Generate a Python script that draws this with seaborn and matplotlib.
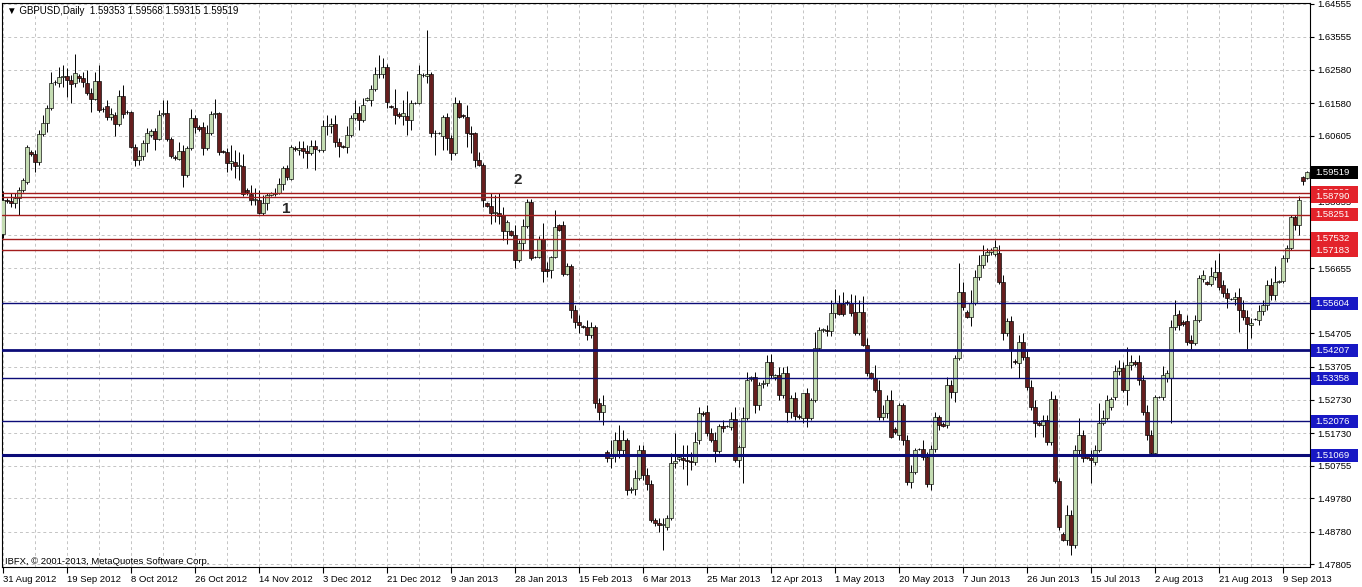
import numpy as np
import pandas as pd
import matplotlib
matplotlib.use('Agg')
import matplotlib.pyplot as plt
from matplotlib.patches import Rectangle
import seaborn as sns

# daily bars (Sunday bars included, as in the IBFX feed), 31 Aug 2012 -> 16 Sep 2013
opens = [
    1.5767, 1.5869, 1.5866, 1.5860, 1.5875, 1.5899, 1.5923, 1.6012, 1.6006, 1.5982,
    1.6066, 1.6099, 1.6144, 1.6221, 1.6218, 1.6236, 1.6239, 1.6227, 1.6218, 1.6239,
    1.6233, 1.6218, 1.6188, 1.6170, 1.6224, 1.6141, 1.6149, 1.6117, 1.6123, 1.6096,
    1.6179, 1.6132, 1.6132, 1.6027, 1.5988, 1.6000, 1.6039, 1.6063, 1.6075, 1.6051,
    1.6126, 1.6129, 1.6051, 1.5997, 1.5991, 1.6015, 1.5943, 1.6024, 1.6114, 1.6087,
    1.6087, 1.6024, 1.6069, 1.6126, 1.6129, 1.6015, 1.6012, 1.5979, 1.5982, 1.5970,
    1.5970, 1.5899, 1.5887, 1.5869, 1.5869, 1.5830, 1.5860, 1.5884, 1.5887, 1.5890,
    1.5917, 1.5964, 1.5932, 1.6024, 1.6018, 1.6024, 1.6015, 1.6009, 1.6030, 1.6018,
    1.6018, 1.6090, 1.6090, 1.6096, 1.6042, 1.6030, 1.6027, 1.6063, 1.6114, 1.6129,
    1.6108, 1.6167, 1.6167, 1.6200, 1.6245, 1.6245, 1.6266, 1.6149, 1.6144, 1.6126,
    1.6120, 1.6120, 1.6108, 1.6158, 1.6158, 1.6242, 1.6239, 1.6245, 1.6069, 1.6069,
    1.6060, 1.6117, 1.6054, 1.6009, 1.6158, 1.6123, 1.6117, 1.6069, 1.6069, 1.5988,
    1.5973, 1.5860, 1.5851, 1.5830, 1.5830, 1.5824, 1.5776, 1.5776, 1.5764, 1.5690,
    1.5740, 1.5791, 1.5863, 1.5699, 1.5699, 1.5752, 1.5663, 1.5660, 1.5699, 1.5794,
    1.5794, 1.5648, 1.5672, 1.5540, 1.5505, 1.5493, 1.5490, 1.5466, 1.5490, 1.5263,
    1.5236, 1.5116, 1.5098, 1.5107, 1.5152, 1.5122, 1.5152, 1.5003, 1.5006, 1.5039,
    1.5122, 1.5048, 1.5021, 1.4913, 1.4904, 1.4898, 1.4892, 1.4919, 1.5083, 1.5095,
    1.5098, 1.5092, 1.5089, 1.5086, 1.5152, 1.5233, 1.5236, 1.5173, 1.5152, 1.5119,
    1.5194, 1.5194, 1.5191, 1.5215, 1.5092, 1.5131, 1.5218, 1.5334, 1.5340, 1.5257,
    1.5319, 1.5322, 1.5385, 1.5340, 1.5346, 1.5287, 1.5352, 1.5236, 1.5278, 1.5224,
    1.5218, 1.5293, 1.5218, 1.5272, 1.5427, 1.5481, 1.5481, 1.5478, 1.5531, 1.5561,
    1.5558, 1.5564, 1.5561, 1.5534, 1.5472, 1.5534, 1.5436, 1.5352, 1.5337, 1.5301,
    1.5221, 1.5233, 1.5272, 1.5185, 1.5167, 1.5257, 1.5152, 1.5027, 1.5057, 1.5125,
    1.5125, 1.5101, 1.5021, 1.5125, 1.5221, 1.5200, 1.5197, 1.5316, 1.5295, 1.5397,
    1.5594, 1.5534, 1.5520, 1.5561, 1.5639, 1.5675, 1.5705, 1.5714, 1.5708, 1.5711,
    1.5624, 1.5472, 1.5507, 1.5388, 1.5382, 1.5445, 1.5400, 1.5310, 1.5251, 1.5203,
    1.5197, 1.5212, 1.5146, 1.5275, 1.5030, 1.4871, 1.4854, 1.4928, 1.4839, 1.5122,
    1.5167, 1.5104, 1.5098, 1.5086, 1.5122, 1.5203, 1.5218, 1.5251, 1.5281, 1.5358,
    1.5367, 1.5301, 1.5376, 1.5385, 1.5385, 1.5331, 1.5236, 1.5167, 1.5113, 1.5281,
    1.5281, 1.5337, 1.5337, 1.5490, 1.5528, 1.5505, 1.5507, 1.5451, 1.5442, 1.5510,
    1.5633, 1.5624, 1.5618, 1.5639, 1.5654, 1.5615, 1.5591, 1.5573, 1.5573, 1.5579,
    1.5540, 1.5519, 1.5496, 1.5513, 1.5510, 1.5537, 1.5555, 1.5615, 1.5585, 1.5624,
    1.5627, 1.5696, 1.5725, 1.5818, 1.5794, 1.5937, 1.59353,
]
highs = [
    1.5896, 1.5875, 1.5890, 1.5890, 1.5908, 1.5934, 1.6033, 1.6018, 1.6018, 1.6078,
    1.6123, 1.6152, 1.6251, 1.6227, 1.6266, 1.6272, 1.6263, 1.6242, 1.6305, 1.6245,
    1.6251, 1.6257, 1.6203, 1.6251, 1.6272, 1.6146, 1.6167, 1.6144, 1.6132, 1.6197,
    1.6212, 1.6138, 1.6135, 1.6036, 1.6018, 1.6048, 1.6084, 1.6081, 1.6084, 1.6138,
    1.6167, 1.6167, 1.6057, 1.6003, 1.6042, 1.6033, 1.6030, 1.6141, 1.6123, 1.6093,
    1.6102, 1.6093, 1.6135, 1.6170, 1.6132, 1.6018, 1.6024, 1.6033, 1.6018, 1.6012,
    1.6006, 1.5905, 1.5914, 1.5905, 1.5899, 1.5884, 1.5890, 1.5893, 1.5905, 1.5934,
    1.5970, 1.5973, 1.6033, 1.6030, 1.6045, 1.6045, 1.6033, 1.6048, 1.6048, 1.6021,
    1.6108, 1.6123, 1.6114, 1.6123, 1.6054, 1.6033, 1.6090, 1.6123, 1.6167, 1.6149,
    1.6173, 1.6176, 1.6212, 1.6266, 1.6302, 1.6293, 1.6275, 1.6152, 1.6200, 1.6132,
    1.6167, 1.6194, 1.6167, 1.6161, 1.6272, 1.6248, 1.6376, 1.6251, 1.6078, 1.6072,
    1.6123, 1.6129, 1.6063, 1.6176, 1.6167, 1.6126, 1.6152, 1.6090, 1.6072, 1.6012,
    1.5979, 1.5863, 1.5890, 1.5884, 1.5890, 1.5848, 1.5809, 1.5779, 1.5794, 1.5749,
    1.5812, 1.5872, 1.5872, 1.5702, 1.5761, 1.5800, 1.5684, 1.5702, 1.5839, 1.5797,
    1.5806, 1.5681, 1.5678, 1.5555, 1.5525, 1.5496, 1.5511, 1.5505, 1.5496, 1.5278,
    1.5287, 1.5122, 1.5152, 1.5176, 1.5197, 1.5182, 1.5158, 1.5012, 1.5063, 1.5137,
    1.5137, 1.5069, 1.5033, 1.4919, 1.4919, 1.4919, 1.4928, 1.5113, 1.5173, 1.5107,
    1.5137, 1.5137, 1.5116, 1.5176, 1.5251, 1.5239, 1.5257, 1.5188, 1.5176, 1.5200,
    1.5212, 1.5197, 1.5236, 1.5251, 1.5137, 1.5251, 1.5355, 1.5343, 1.5355, 1.5325,
    1.5331, 1.5406, 1.5409, 1.5349, 1.5370, 1.5370, 1.5373, 1.5287, 1.5295, 1.5230,
    1.5293, 1.5307, 1.5278, 1.5475, 1.5490, 1.5487, 1.5496, 1.5570, 1.5603, 1.5585,
    1.5594, 1.5570, 1.5588, 1.5585, 1.5570, 1.5582, 1.5457, 1.5355, 1.5376, 1.5331,
    1.5257, 1.5287, 1.5302, 1.5191, 1.5263, 1.5263, 1.5167, 1.5078, 1.5128, 1.5128,
    1.5152, 1.5116, 1.5137, 1.5236, 1.5227, 1.5206, 1.5340, 1.5331, 1.5406, 1.5681,
    1.5624, 1.5540, 1.5600, 1.5660, 1.5705, 1.5734, 1.5725, 1.5725, 1.5749, 1.5734,
    1.5645, 1.5517, 1.5522, 1.5394, 1.5466, 1.5472, 1.5421, 1.5331, 1.5272, 1.5209,
    1.5227, 1.5227, 1.5299, 1.5287, 1.5039, 1.4877, 1.4958, 1.4943, 1.5137, 1.5218,
    1.5182, 1.5107, 1.5122, 1.5137, 1.5263, 1.5242, 1.5287, 1.5281, 1.5376, 1.5391,
    1.5385, 1.5430, 1.5406, 1.5391, 1.5406, 1.5346, 1.5257, 1.5182, 1.5287, 1.5284,
    1.5373, 1.5361, 1.5510, 1.5570, 1.5540, 1.5510, 1.5525, 1.5466, 1.5525, 1.5645,
    1.5660, 1.5627, 1.5669, 1.5690, 1.5711, 1.5630, 1.5606, 1.5576, 1.5594, 1.5606,
    1.5570, 1.5540, 1.5517, 1.5516, 1.5555, 1.5570, 1.5630, 1.5636, 1.5672, 1.5630,
    1.5705, 1.5734, 1.5824, 1.5824, 1.5881, 1.5939, 1.59568,
]
lows = [
    1.5755, 1.5860, 1.5848, 1.5845, 1.5824, 1.5893, 1.5917, 1.6000, 1.5952, 1.5973,
    1.6060, 1.6072, 1.6138, 1.6212, 1.6206, 1.6206, 1.6176, 1.6158, 1.6206, 1.6221,
    1.6206, 1.6182, 1.6132, 1.6167, 1.6132, 1.6132, 1.6108, 1.6108, 1.6060, 1.6090,
    1.6114, 1.6126, 1.6024, 1.5970, 1.5973, 1.5988, 1.6012, 1.6057, 1.6018, 1.6048,
    1.6120, 1.6045, 1.5994, 1.5988, 1.5988, 1.5908, 1.5937, 1.6018, 1.6069, 1.6075,
    1.6003, 1.6018, 1.6063, 1.6114, 1.6003, 1.6009, 1.5952, 1.5958, 1.5934, 1.5929,
    1.5881, 1.5884, 1.5854, 1.5854, 1.5827, 1.5824, 1.5839, 1.5881, 1.5881, 1.5887,
    1.5899, 1.5929, 1.5929, 1.6015, 1.6003, 1.5994, 1.5964, 1.6003, 1.5958, 1.6012,
    1.6012, 1.6063, 1.6069, 1.6027, 1.5997, 1.6024, 1.6009, 1.6057, 1.6108, 1.6078,
    1.6102, 1.6164, 1.6149, 1.6194, 1.6233, 1.6233, 1.6144, 1.6144, 1.6096, 1.6114,
    1.6093, 1.6063, 1.6078, 1.6155, 1.6155, 1.6236, 1.6218, 1.6057, 1.6003, 1.6066,
    1.6018, 1.6018, 1.5988, 1.6003, 1.6114, 1.6114, 1.6027, 1.6009, 1.5967, 1.5970,
    1.5848, 1.5848, 1.5797, 1.5803, 1.5797, 1.5749, 1.5737, 1.5761, 1.5666, 1.5684,
    1.5719, 1.5785, 1.5690, 1.5696, 1.5696, 1.5624, 1.5639, 1.5636, 1.5696, 1.5776,
    1.5642, 1.5645, 1.5517, 1.5487, 1.5472, 1.5487, 1.5451, 1.5457, 1.5248, 1.5212,
    1.5197, 1.5086, 1.5069, 1.5086, 1.5098, 1.5107, 1.4988, 1.4994, 1.4988, 1.5033,
    1.5033, 1.5003, 1.4907, 1.4895, 1.4877, 1.4824, 1.4883, 1.4913, 1.5069, 1.5089,
    1.5066, 1.5018, 1.5063, 1.5078, 1.5140, 1.5224, 1.5164, 1.5146, 1.5086, 1.5113,
    1.5176, 1.5191, 1.5182, 1.5086, 1.5072, 1.5024, 1.5212, 1.5328, 1.5233, 1.5242,
    1.5307, 1.5313, 1.5337, 1.5331, 1.5272, 1.5278, 1.5206, 1.5218, 1.5212, 1.5215,
    1.5203, 1.5191, 1.5212, 1.5266, 1.5421, 1.5475, 1.5463, 1.5463, 1.5516, 1.5525,
    1.5522, 1.5555, 1.5522, 1.5466, 1.5466, 1.5433, 1.5343, 1.5334, 1.5295, 1.5212,
    1.5212, 1.5218, 1.5158, 1.5170, 1.5152, 1.5137, 1.5018, 1.5009, 1.5051, 1.5122,
    1.5092, 1.5012, 1.5003, 1.5116, 1.5182, 1.5191, 1.5188, 1.5278, 1.5266, 1.5391,
    1.5540, 1.5517, 1.5493, 1.5555, 1.5630, 1.5666, 1.5684, 1.5705, 1.5702, 1.5618,
    1.5451, 1.5463, 1.5367, 1.5379, 1.5337, 1.5391, 1.5301, 1.5242, 1.5161, 1.5194,
    1.5161, 1.5137, 1.5137, 1.5024, 1.4883, 1.4851, 1.4839, 1.4809, 1.4830, 1.5107,
    1.5086, 1.5095, 1.5024, 1.5078, 1.5116, 1.5197, 1.5212, 1.5242, 1.5272, 1.5346,
    1.5295, 1.5257, 1.5361, 1.5373, 1.5316, 1.5227, 1.5152, 1.5107, 1.5107, 1.5278,
    1.5272, 1.5325, 1.5203, 1.5481, 1.5481, 1.5493, 1.5436, 1.5421, 1.5436, 1.5505,
    1.5624, 1.5615, 1.5612, 1.5630, 1.5600, 1.5579, 1.5546, 1.5570, 1.5555, 1.5475,
    1.5510, 1.5424, 1.5457, 1.5510, 1.5496, 1.5525, 1.5540, 1.5570, 1.5570, 1.5621,
    1.5621, 1.5684, 1.5719, 1.5779, 1.5764, 1.5913, 1.59315,
]
closes = [
    1.5869, 1.5866, 1.5860, 1.5875, 1.5899, 1.5929, 1.6027, 1.6006, 1.5982, 1.6066,
    1.6099, 1.6144, 1.6218, 1.6221, 1.6236, 1.6239, 1.6227, 1.6215, 1.6248, 1.6233,
    1.6221, 1.6188, 1.6170, 1.6224, 1.6138, 1.6141, 1.6117, 1.6126, 1.6096, 1.6179,
    1.6126, 1.6132, 1.6027, 1.5988, 1.6000, 1.6039, 1.6069, 1.6075, 1.6051, 1.6123,
    1.6129, 1.6051, 1.6000, 1.5994, 1.6015, 1.5943, 1.6024, 1.6114, 1.6087, 1.6081,
    1.6024, 1.6069, 1.6126, 1.6129, 1.6012, 1.6012, 1.5979, 1.5985, 1.5970, 1.5973,
    1.5887, 1.5893, 1.5869, 1.5872, 1.5830, 1.5860, 1.5884, 1.5890, 1.5890, 1.5917,
    1.5964, 1.5937, 1.6027, 1.6021, 1.6024, 1.6015, 1.6009, 1.6030, 1.6021, 1.6018,
    1.6090, 1.6090, 1.6096, 1.6042, 1.6030, 1.6027, 1.6063, 1.6114, 1.6129, 1.6108,
    1.6152, 1.6173, 1.6200, 1.6245, 1.6245, 1.6266, 1.6161, 1.6146, 1.6123, 1.6120,
    1.6129, 1.6108, 1.6158, 1.6158, 1.6245, 1.6242, 1.6245, 1.6069, 1.6069, 1.6069,
    1.6117, 1.6054, 1.6009, 1.6158, 1.6117, 1.6120, 1.6069, 1.6066, 1.5988, 1.5973,
    1.5869, 1.5851, 1.5830, 1.5833, 1.5821, 1.5776, 1.5803, 1.5764, 1.5690, 1.5740,
    1.5791, 1.5863, 1.5696, 1.5699, 1.5752, 1.5657, 1.5657, 1.5699, 1.5788, 1.5779,
    1.5648, 1.5672, 1.5540, 1.5505, 1.5496, 1.5490, 1.5466, 1.5490, 1.5263, 1.5236,
    1.5257, 1.5098, 1.5107, 1.5152, 1.5122, 1.5152, 1.5003, 1.5006, 1.5039, 1.5122,
    1.5048, 1.5021, 1.4913, 1.4904, 1.4898, 1.4901, 1.4919, 1.5083, 1.5089, 1.5101,
    1.5092, 1.5089, 1.5086, 1.5146, 1.5233, 1.5230, 1.5173, 1.5152, 1.5119, 1.5194,
    1.5188, 1.5194, 1.5215, 1.5092, 1.5131, 1.5218, 1.5331, 1.5340, 1.5257, 1.5316,
    1.5322, 1.5385, 1.5346, 1.5346, 1.5287, 1.5352, 1.5236, 1.5278, 1.5224, 1.5221,
    1.5293, 1.5218, 1.5272, 1.5427, 1.5481, 1.5484, 1.5478, 1.5531, 1.5561, 1.5528,
    1.5528, 1.5561, 1.5531, 1.5472, 1.5534, 1.5436, 1.5352, 1.5337, 1.5301, 1.5221,
    1.5233, 1.5272, 1.5161, 1.5176, 1.5257, 1.5152, 1.5027, 1.5057, 1.5122, 1.5125,
    1.5101, 1.5021, 1.5125, 1.5221, 1.5197, 1.5194, 1.5316, 1.5295, 1.5397, 1.5594,
    1.5549, 1.5520, 1.5561, 1.5639, 1.5675, 1.5705, 1.5714, 1.5719, 1.5728, 1.5624,
    1.5472, 1.5507, 1.5421, 1.5385, 1.5445, 1.5400, 1.5310, 1.5251, 1.5203, 1.5197,
    1.5212, 1.5146, 1.5275, 1.5030, 1.4892, 1.4854, 1.4928, 1.4839, 1.5122, 1.5167,
    1.5098, 1.5098, 1.5092, 1.5122, 1.5203, 1.5218, 1.5272, 1.5275, 1.5358, 1.5367,
    1.5301, 1.5376, 1.5385, 1.5379, 1.5331, 1.5236, 1.5167, 1.5113, 1.5281, 1.5281,
    1.5346, 1.5352, 1.5490, 1.5525, 1.5496, 1.5499, 1.5445, 1.5442, 1.5510, 1.5636,
    1.5645, 1.5618, 1.5642, 1.5654, 1.5609, 1.5591, 1.5576, 1.5573, 1.5579, 1.5540,
    1.5519, 1.5499, 1.5502, 1.5513, 1.5537, 1.5555, 1.5615, 1.5585, 1.5624, 1.5627,
    1.5696, 1.5725, 1.5818, 1.5794, 1.5869, 1.5926, 1.59519,
]

# horizontal levels drawn on the chart
red_levels = [1.58906, 1.58790, 1.58251, 1.57532, 1.57183]
blue_levels = [1.55604, 1.54207, 1.53358, 1.52076, 1.51069]
blue_widths = [1.0, 2.0, 1.0, 1.0, 2.2]
price_ticks = [1.64555, 1.63555, 1.62580, 1.61580, 1.60605, 1.59630, 1.58655, 1.57655, 1.56655,
               1.55680, 1.54705, 1.53705, 1.52730, 1.51730, 1.50755, 1.49780, 1.48780, 1.47805]
# scale labels fully covered by the price boxes in the terminal
hidden_ticks = [1.59630, 1.55680]
header = '\u25bc GBPUSD,Daily  1.59353 1.59568 1.59315 1.59519'
copyright_txt = 'IBFX, \u00a9 2001-2013, MetaQuotes Software Corp.'

assert len(opens) == len(highs) == len(lows) == len(closes)

sns.set_style('white')
plt.rcParams['font.family'] = ['Liberation Sans', 'DejaVu Sans']

dates = pd.bdate_range('2012-08-31', periods=len(closes), freq='C',
                       weekmask='Sun Mon Tue Wed Thu Fri')
df = pd.DataFrame({'date': dates, 'open': opens, 'high': highs, 'low': lows, 'close': closes})
df['bar'] = np.arange(len(df))
df['up'] = df['close'] >= df['open']

BULL = '#c4dcb2'
BEAR = '#661e1e'
GRID = '#c4c4c4'

fig = plt.figure(figsize=(13.62, 5.87), dpi=100)
ax = fig.add_axes([2 / 1362, 20 / 587, 1308 / 1362, 564 / 587])

# candles
ax.vlines(df['bar'], df['low'], df['high'], color='black', linewidth=0.7, zorder=2)
body = (df['close'] - df['open']).abs().clip(lower=0.00002)
ax.bar(df['bar'], body, bottom=df[['open', 'close']].min(axis=1), width=0.8,
       color=np.where(df['up'], BULL, BEAR), edgecolor='black', linewidth=0.45, zorder=3)

# levels
for lv in red_levels:
    ax.axhline(lv, color='#a31c1c', linewidth=1.0, zorder=4)
for lv, w in zip(blue_levels, blue_widths):
    ax.axhline(lv, color='#0c0c78', linewidth=w, zorder=4)

ax.set_xlim(-0.25, len(df) - 0.25)
ax.set_ylim(1.47729, 1.64570)

# axes, ticks, grid
ax.yaxis.tick_right()
ax.set_yticks(price_ticks)
ax.set_yticklabels(['' if p in hidden_ticks else f'{p:.5f}' for p in price_ticks])
major = list(range(0, len(df), 16))
ax.set_xticks(major)
ax.set_xticklabels([f"{d.day} {d.strftime('%b %Y')}" for d in df['date'].iloc[major]], ha='left')
ax.set_xticks(list(range(8, len(df), 16)), minor=True)
ax.tick_params(axis='x', which='major', bottom=True, length=4, width=0.8, pad=2,
               labelsize=6.8, colors='black', direction='out')
ax.tick_params(axis='x', which='minor', bottom=True, length=0)
ax.tick_params(axis='y', which='major', right=True, left=False, labelright=True, labelleft=False,
               length=3, width=0.8, pad=2, labelsize=6.8, colors='black', direction='out')
for lab in ax.get_xticklabels():
    lab.set_horizontalalignment('left')
ax.grid(True, which='both', axis='x', color=GRID, linestyle=(0, (3, 3)), linewidth=0.7)
ax.grid(True, which='major', axis='y', color=GRID, linestyle=(0, (3, 3)), linewidth=0.7)
ax.set_axisbelow(True)
for sp in ax.spines.values():
    sp.set_color('black')
    sp.set_linewidth(0.8)
    sp.set_visible(True)

# price boxes on the right scale, each one stacked over the previous
ytr = ax.get_yaxis_transform()
box_h = 13 * (1.64570 - 1.47729) / 564
layer = [6]


def price_box(price, fc):
    z = layer[0]
    ax.add_patch(Rectangle((1.0008, price - box_h / 2), 47 / 1308, box_h, transform=ytr,
                           facecolor=fc, edgecolor='none', clip_on=False, zorder=z))
    ax.text(1.0040, price, f'{price:.5f}', transform=ytr, ha='left', va='center',
            fontsize=6.8, color='white', zorder=z + 0.5, clip_on=False)
    layer[0] += 1


for lv in red_levels:
    price_box(lv, '#e3232b')
for lv in blue_levels:
    price_box(lv, '#1818c4')
price_box(closes[-1], '#000000')

# texts
ax.text(0.0035, 1 - 3 / 564, header, transform=ax.transAxes, ha='left', va='top',
        fontsize=7, color='black')
ax.text(3 / 1308, 6 / 564, copyright_txt, transform=ax.transAxes, ha='left', va='center',
        fontsize=6.8, color='black')
ax.text(70.75, 1.5842, '1', ha='center', va='center', fontsize=11, fontweight='bold', zorder=5)
ax.text(128.75, 1.5929, '2', ha='center', va='center', fontsize=11, fontweight='bold', zorder=5)

fig.savefig('out.png', dpi=100)
